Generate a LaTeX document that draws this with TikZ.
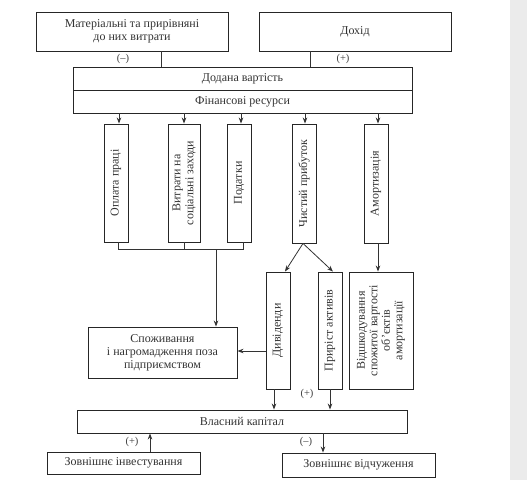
\documentclass[tikz,border=0pt]{standalone}
\usepackage{fontspec}
\setmainfont{Liberation Serif}
\usetikzlibrary{arrows.meta}
\begin{document}
\begin{tikzpicture}[x=1pt,y=-1pt,
  box/.style={draw=black!85,line width=0.9pt,inner sep=1pt,align=center,font=\fontsize{12}{13}\selectfont,text=black!80},
  vbox/.style={box,rotate=90},
  conn/.style={draw=black!80,line width=0.8pt},
  arr/.style={conn,-{Stealth[length=6pt,width=4.5pt]}},
  sign/.style={font=\fontsize{10.5}{11}\selectfont,text=black!75,inner sep=0pt}]
\useasboundingbox (0,0) rectangle (527,480);
\fill[black!8] (510,0) rectangle (527,480);
% top boxes
\node[box,minimum width=192pt,minimum height=39pt] (mat) at (132,31.5) {Матеріальні та прирівняні\\до них витрати};
\node[box,minimum width=192pt,minimum height=39pt] (doh) at (355,31.5) {Дохід};
\node[box,minimum width=339pt,minimum height=23pt] (dod) at (242.5,78.5) {Додана вартість};
\node[box,minimum width=339pt,minimum height=23pt] (fin) at (242.5,101.5) {Фінансові ресурси};
\draw[conn] (161,0 |- mat.south) -- (161,0 |- dod.north);
\draw[conn] (310,0 |- doh.south) -- (310,0 |- dod.north);
\node[sign] (m1) at (123,59) {(–)};
\node[sign] (p1) at (343,59) {(+)};
% vertical boxes
\node[vbox,minimum width=118pt,minimum height=24pt] (opl) at (116,183) {Оплата праці};
\node[vbox,minimum width=118pt,minimum height=32pt] (vyt) at (184,183) {Витрати на\\соціальні заходи};
\node[vbox,minimum width=118pt,minimum height=24pt] (pod) at (239,183) {Податки};
\node[vbox,minimum width=119pt,minimum height=24pt] (chp) at (304,183.5) {Чистий прибуток};
\node[vbox,minimum width=119pt,minimum height=24pt] (amo) at (376,183.5) {Амортизація};
\draw[arr] (119,0 |- fin.south) -- (119,0 |- opl.east);
\draw[arr] (184,0 |- fin.south) -- (184,0 |- vyt.east);
\draw[arr] (241,0 |- fin.south) -- (241,0 |- pod.east);
\draw[arr] (305,0 |- fin.south) -- (305,0 |- chp.east);
\draw[arr] (378,0 |- fin.south) -- (378,0 |- amo.east);
% lower boxes
\node[box,minimum width=149pt,minimum height=51pt] (spo) at (162.5,352.5) {Споживання\\і нагромадження поза\\підприємством};
\node[vbox,minimum width=117pt,minimum height=24pt] (dyv) at (278,330.5) {Дивіденди};
\node[vbox,minimum width=117pt,minimum height=24pt] (pry) at (330,330.5) {Приріст активів};
\node[vbox,minimum width=117pt,minimum height=64pt,font=\fontsize{12}{12.5}\selectfont] (vid) at (381,330.5) {Відшкодування\\спожитої вартості\\об'єктів\\амортизації};
% bracket
\coordinate (br) at (216,249);
\draw[conn] (118,0 |- opl.west) -- (118,249) -- (243,249) -- (243,0 |- pod.west);
\draw[conn] (184,0 |- vyt.west) -- (184,249);
\draw[arr] (br) -- (216,0 |- spo.north);
% chystyi prybutok split
\coordinate (cp) at (303,0 |- chp.west);
\draw[arr] (cp) -- (285,0 |- dyv.east);
\draw[arr] (cp) -- (333,0 |- pry.east);
\draw[arr] (378,0 |- amo.west) -- (378,0 |- vid.east);
\draw[arr] (dyv.north |- 0,351) -- (spo.east |- 0,351);
% capital
\node[box,minimum width=330pt,minimum height=23pt] (vla) at (242,421.5) {Власний капітал};
\draw[arr] (274,0 |- dyv.west) -- (274,0 |- vla.north);
\draw[arr] (330,0 |- pry.west) -- (330,0 |- vla.north);
\node[sign] (p2) at (307,394) {(+)};
\node[box,minimum width=153pt,minimum height=22pt] (zin) at (123.5,463) {Зовнішнє інвестування};
\node[box,minimum width=153pt,minimum height=24pt] (zvi) at (358.5,465) {Зовнішнє відчуження};
\draw[arr] (150,0 |- zin.north) -- (150,0 |- vla.south);
\draw[arr] (323,0 |- vla.south) -- (323,0 |- zvi.north);
\node[sign] (p3) at (132,442) {(+)};
\node[sign] (m2) at (306,442) {(–)};
\end{tikzpicture}
\end{document}
